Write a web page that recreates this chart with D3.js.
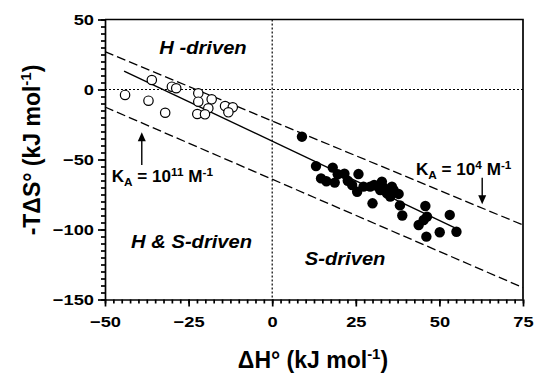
<!DOCTYPE html>
<html>
<head>
<meta charset="utf-8">
<script src="https://cdn.jsdelivr.net/npm/d3@7"></script>
<style>
  body { margin: 0; background: #fff; }
  svg { font-family: "Liberation Sans", Arial, sans-serif; }
</style>
</head>
<body>
<script>
// enthalpy-driven ligands (open symbols)
const openDH  = [-44.0, -36.0, -37.0, -32.0, -30.0, -28.7, -22.1, -22.1, -18.1, -19.1, -22.4, -20.1, -14.1, -11.8, -13.1];
const openTdS = [-3.9, 6.8, -8.0, -16.6, 2.0, 0.9, -2.7, -8.7, -7.0, -13.4, -17.5, -17.7, -11.8, -12.7, -16.3];
// entropy-driven ligands (filled symbols)
const filledDH  = [8.9, 13.1, 18.1, 16.2, 18.7, 19.6, 21.6, 22.6, 23.9, 25.8, 25.4, 27.3, 29.3, 30.5, 32.8,
                   30.0, 32.3, 33.3, 34.3, 35.8, 35.3, 36.3, 37.8, 38.2, 38.9, 45.8, 46.3, 45.3, 43.8, 46.1,
                   50.1, 53.1, 55.1, 14.6];
const filledTdS = [-33.7, -54.7, -55.8, -65.5, -66.5, -60.5, -60.2, -65.2, -68.2, -60.4, -73.0, -69.4, -69.4, -68.2, -65.8,
                   -81.3, -71.8, -69.9, -74.1, -69.4, -76.5, -71.8, -74.6, -82.8, -90.0, -83.2, -90.8, -93.2, -96.8, -105.1,
                   -102.0, -89.6, -101.6, -63.5];
// fit line and iso-affinity lines (start/end points)
const fitLine  = [[-44.3, 13.2], [54.5, -98.6]];
const isoHigh  = [[-50, 27.0], [75, -96.8]];   // KA = 10^4
const isoLow   = [[-50, -12.5], [75, -141.5]]; // KA = 10^11
const xTicks = [-50, -25, 0, 25, 50, 75];
const yTicks = [50, 0, -50, -100, -150];

const width = 535, height = 373;
const x = d3.scaleLinear().domain([-50, 75]).range([105, 523]);
const y = d3.scaleLinear().domain([-150, 50]).range([299.5, 19.5]);

const svg = d3.select('body').append('svg')
  .attr('width', width).attr('height', height);

// minor ticks first, then the labelled ones
svg.append('g').attr('transform', `translate(0,${y(-150)})`)
  .call(d3.axisBottom(x).tickValues(d3.range(-50, 75.1, 2.5)).tickSize(4).tickFormat(''))
  .call(g => g.select('.domain').remove());
svg.append('g').attr('transform', `translate(${x(-50)},0)`)
  .call(d3.axisLeft(y).tickValues(d3.range(-150, 50.1, 5)).tickSize(4).tickFormat(''))
  .call(g => g.select('.domain').remove());

// tick labels in the original are wide, so stretch them a bit
const sx = 1.22;
const xAxis = svg.append('g').attr('transform', `translate(0,${y(-150)})`)
  .call(d3.axisBottom(x).tickValues(xTicks).tickSize(7).tickSizeOuter(0).tickPadding(10));
const yAxis = svg.append('g').attr('transform', `translate(${x(-50)},0)`)
  .call(d3.axisLeft(y).tickValues(yTicks).tickSize(7).tickSizeOuter(0).tickPadding(4));
for (const ax of [xAxis, yAxis]) {
  ax.selectAll('text').attr('font-size', 15).attr('font-weight', 'bold').attr('fill', '#000')
    .attr('font-family', '"Liberation Sans", Arial, sans-serif')
    .attr('transform', `scale(${sx},1)`);
}
yAxis.selectAll('text').attr('x', -11 / sx);
svg.selectAll('g line, g path').attr('stroke', '#000').attr('stroke-width', 1.7);

// frame top and right
svg.append('path')
  .attr('d', `M${x(-50)},${y(50)}H${x(75)}V${y(-150)}`)
  .attr('fill', 'none').attr('stroke', '#000').attr('stroke-width', 1.7);

// zero lines
const dotted = (p) => svg.append('line')
  .attr('x1', p[0]).attr('y1', p[1]).attr('x2', p[2]).attr('y2', p[3])
  .attr('stroke', '#000').attr('stroke-width', 1.2).attr('stroke-dasharray', '2,2');
dotted([x(-50), y(0), x(75), y(0)]);
dotted([x(0), y(50), x(0), y(-150)]);

const line = d3.line().x(d => x(d[0])).y(d => y(d[1]));
svg.append('path').attr('d', line(isoHigh)).attr('fill', 'none')
  .attr('stroke', '#000').attr('stroke-width', 1.3).attr('stroke-dasharray', '9,4');
svg.append('path').attr('d', line(isoLow)).attr('fill', 'none')
  .attr('stroke', '#000').attr('stroke-width', 1.3).attr('stroke-dasharray', '9,4');
svg.append('path').attr('d', line(fitLine)).attr('fill', 'none')
  .attr('stroke', '#000').attr('stroke-width', 1.4);

// points
svg.append('g').selectAll('circle').data(d3.range(filledDH.length)).join('circle')
  .attr('cx', i => x(filledDH[i])).attr('cy', i => y(filledTdS[i])).attr('r', 5.2)
  .attr('fill', '#000');
svg.append('g').selectAll('circle').data(d3.range(openDH.length)).join('circle')
  .attr('cx', i => x(openDH[i])).attr('cy', i => y(openTdS[i])).attr('r', 4.7)
  .attr('fill', '#fff').attr('stroke', '#000').attr('stroke-width', 1.2);

// arrows
const arrow = (xv, from, to) => {
  const x0 = x(xv), y0 = y(from), y1 = y(to), dir = Math.sign(y1 - y0);
  svg.append('line').attr('x1', x0).attr('y1', y0).attr('x2', x0).attr('y2', y1 - dir * 6)
    .attr('stroke', '#000').attr('stroke-width', 1.4);
  svg.append('path')
    .attr('d', `M${x0},${y1}L${x0 - 4},${y1 - dir * 9}L${x0 + 4},${y1 - dir * 9}Z`)
    .attr('fill', '#000');
};
arrow(-39, -54, -30.5);
arrow(62.8, -63, -82);

// region labels
const region = (txt, xv, yv) => svg.append('text')
  .attr('transform', `translate(${x(xv)},${y(yv)}) scale(1.12,1)`).attr('text-anchor', 'middle')
  .attr('font-size', 18).attr('font-weight', 'bold').attr('font-style', 'italic').text(txt);
region('H -driven', -20.7, 25.4);
region('H & S-driven', -24.1, -113.2);
region('S-driven', 21.8, -125.4);

// KA labels
const ka = (xv, yv, exp) => {
  const t = svg.append('text').attr('transform', `translate(${x(xv)},${y(yv)}) scale(1.07,1)`)
    .attr('font-size', 16).attr('font-weight', 'bold');
  t.append('tspan').text('K');
  t.append('tspan').attr('font-size', 11).attr('dy', 4).text('A');
  t.append('tspan').attr('dy', -4).text(' = 10');
  t.append('tspan').attr('font-size', 11).attr('dy', -6).text(exp);
  t.append('tspan').attr('dy', 6).text(' M');
  t.append('tspan').attr('font-size', 11).attr('dy', -6).text('-1');
};
ka(-48, -66, '11');
ka(43, -61, '4');

// axis titles
const xt = svg.append('text').attr('x', 313).attr('y', 368).attr('text-anchor', 'middle')
  .attr('font-size', 23).attr('font-weight', 'bold');
xt.append('tspan').text('ΔH° (kJ mol');
xt.append('tspan').attr('font-size', 15).attr('dy', -9).text('-1');
xt.append('tspan').attr('dy', 9).text(')');

const yt = svg.append('text').attr('transform', 'translate(40,150) rotate(-90)')
  .attr('text-anchor', 'middle').attr('font-size', 23).attr('font-weight', 'bold');
yt.append('tspan').text('-TΔS° (kJ mol');
yt.append('tspan').attr('font-size', 15).attr('dy', -9).text('-1');
yt.append('tspan').attr('dy', 9).text(')');
</script>
</body>
</html>
